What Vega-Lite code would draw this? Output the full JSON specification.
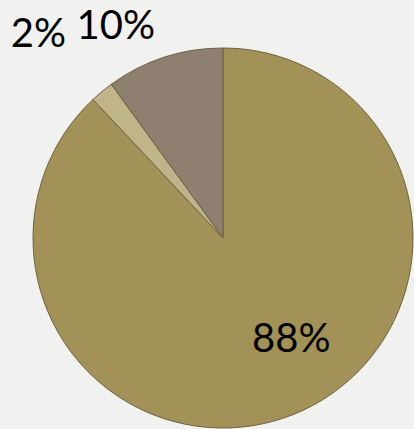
{
  "$schema": "https://vega.github.io/schema/vega-lite/v6.json",
  "width": 380,
  "height": 380,
  "autosize": {"type": "none"},
  "padding": {"left": 33, "top": 48, "right": 1, "bottom": 1},
  "background": "#f1f1f0",
  "view": {"stroke": null},
  "data": {"values": [
    {"cat": "A", "value": 88, "label": "88%", "ord": 1},
    {"cat": "B", "value": 2, "label": "2%", "ord": 2},
    {"cat": "C", "value": 10, "label": "10%", "ord": 3}
  ]},
  "encoding": {
    "theta": {"field": "value", "type": "quantitative", "stack": true},
    "order": {"field": "ord", "type": "quantitative"}
  },
  "layer": [
    {
      "mark": {"type": "arc", "outerRadius": 190, "stroke": "#6e6240", "strokeWidth": 1},
      "encoding": {
        "color": {"field": "cat", "type": "nominal", "legend": null,
          "scale": {"domain": ["A", "B", "C"], "range": ["#a39257", "#c0b48a", "#8e7f71"]}}
      }
    },
    {
      "mark": {"type": "text", "radius": 123, "dx": 23, "dy": -12, "fontSize": 40, "font": "Lato", "color": "#000000", "align": "center", "baseline": "middle"},
      "encoding": {"text": {"condition": {"test": "datum.cat == 'A'", "field": "label"}, "value": ""}}
    },
    {
      "mark": {"type": "text", "radius": 237, "dx": -34, "dy": 14, "fontSize": 40, "font": "Lato", "color": "#000000", "align": "center", "baseline": "middle"},
      "encoding": {"text": {"condition": {"test": "datum.cat == 'C'", "field": "label"}, "value": ""}}
    },
    {
      "mark": {"type": "text", "radius": 274, "dx": -10, "dy": 8, "fontSize": 40, "font": "Lato", "color": "#000000", "align": "center", "baseline": "middle"},
      "encoding": {"text": {"condition": {"test": "datum.cat == 'B'", "field": "label"}, "value": ""}}
    }
  ]
}
